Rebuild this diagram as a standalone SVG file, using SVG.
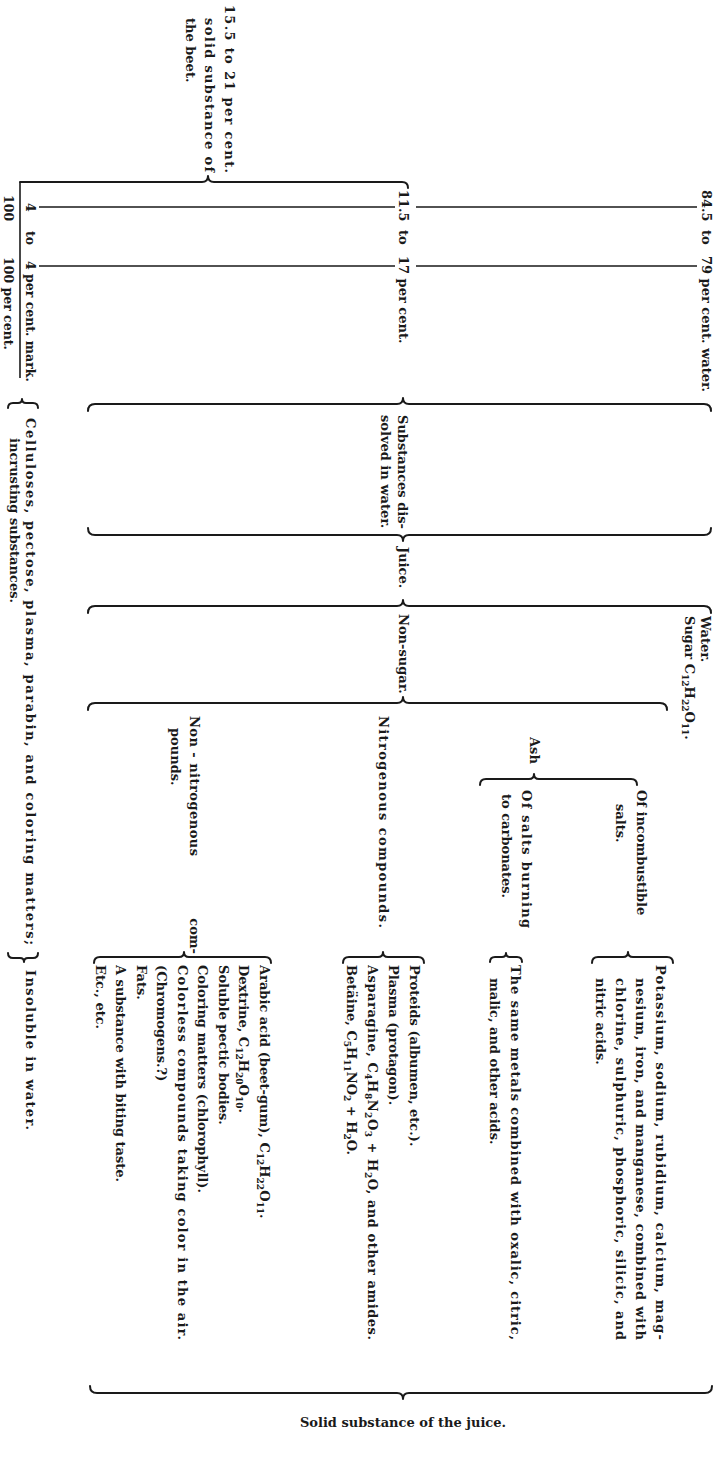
<svg xmlns="http://www.w3.org/2000/svg" width="718" height="1461" viewBox="0 0 718 1461">
<style>
.t{font-family:"DejaVu Serif","Liberation Serif",serif;font-weight:bold;font-size:13px;fill:#1a1a1a}
.f{font-size:12.5px}
.s{font-size:9px}
.br{fill:none;stroke:#1a1a1a;stroke-width:2;stroke-linecap:round;stroke-linejoin:round}
.ln{fill:none;stroke:#1a1a1a;stroke-width:1.6}
</style>
<rect width="718" height="1461" fill="#fff"/>
<g id="connectors">
<path class="br" d="M20,182 L202,182 Q208,182 208,176 Q208,182 214,182 L402,182 Q408,182 408,188"/>
<path class="ln" d="M20,182 L20,378"/>
<path class="ln" d="M39,207 L395,207 M416,207 L697,207 M39,266 L395,266 M416,266 L697,266"/>
<path class="br" d="M88,411 Q88,404 95,404 L397,404 Q403,404 403,398 Q403,404 409,404 L704,404 Q711,404 711,411"/>
<path class="br" d="M88,528 Q88,535 95,535 L397,535 Q403,535 403,541 Q403,535 409,535 L704,535 Q711,535 711,528"/>
<path class="br" d="M88,613 Q88,606 95,606 L397,606 Q403,606 403,600 Q403,606 409,606 L704,606 Q711,606 711,613"/>
<path class="br" d="M88,710 Q88,703 95,703 L397,703 Q403,703 403,697 Q403,703 409,703 L660,703 Q667,703 667,710"/>
<path class="br" d="M480,785 Q480,779 486,779 L529,779 Q534,779 534,774 Q534,779 539,779 L631,779 Q637,779 637,785"/>
<path class="br" d="M592,963 Q592,957 598,957 L623,957 Q628,957 628,952 Q628,957 633,957 L667,957 Q673,957 673,963"/>
<path class="br" d="M490,962 Q490,957 495,957 L502,957 Q506,957 506,953 Q506,957 510,957 L517,957 Q522,957 522,962"/>
<path class="br" d="M343,963 Q343,957 349,957 L378,957 Q383,957 383,952 Q383,957 388,957 L418,957 Q424,957 424,963"/>
<path class="br" d="M94,963 Q94,957 100,957 L179,957 Q184,957 184,952 Q184,957 189,957 L265,957 Q271,957 271,963"/>
<path class="br" d="M8,408 Q8,403 13,403 L18,403 Q22,403 22,399 Q22,403 26,403 L33,403 Q38,403 38,408"/>
<path class="br" d="M8,953 Q8,958 13,958 L20,958 Q24,958 24,962 Q24,958 28,958 L33,958 Q38,958 38,953"/>
<path class="br" d="M90,1386 Q90,1393 97,1393 L397,1393 Q403,1393 403,1399 Q403,1393 409,1393 L705,1393 Q712,1393 712,1386"/>
</g>
<g id="n-solid-beet">
<text class="t" transform="translate(224.5,5) rotate(90)" textLength="168" lengthAdjust="spacing">15.5 to 21 per cent.</text>
<text class="t" transform="translate(205,18) rotate(90)" textLength="154" lengthAdjust="spacing">solid substance of</text>
<text class="t" transform="translate(186,18) rotate(90)">the beet.</text>
</g>
<g id="n-mark">
<text class="t f" transform="translate(4,195) rotate(90)">100</text>
<text class="t f" transform="translate(4,257) rotate(90)">100 per cent.</text>
<text class="t f" transform="translate(26,203) rotate(90)">4</text>
<text class="t f" transform="translate(26,231) rotate(90)">to</text>
<text class="t f" transform="translate(26,261) rotate(90)">4 per cent. mark.</text>
</g>
<g id="n-dry">
<text class="t" transform="translate(398.5,190) rotate(90)">11.5</text>
<text class="t" transform="translate(398.5,230) rotate(90)">to</text>
<text class="t" transform="translate(398.5,256) rotate(90)">17 per cent.</text>
</g>
<g id="n-water">
<text class="t" transform="translate(702,190) rotate(90)">84.5</text>
<text class="t" transform="translate(702,230) rotate(90)">to</text>
<text class="t" transform="translate(702,256) rotate(90)">79 per cent. water.</text>
</g>
<g id="n-dissolved">
<text class="t" transform="translate(397.5,415) rotate(90)">Substances dis-</text>
<text class="t" transform="translate(380.5,415) rotate(90)">solved in water.</text>
</g>
<g id="n-juice">
<text class="t" transform="translate(398.5,547) rotate(90)">Juice.</text>
</g>
<g id="n-nonsugar">
<text class="t" transform="translate(398.5,614) rotate(90)">Non-sugar.</text>
</g>
<g id="n-water-sugar">
<text class="t" transform="translate(701,616) rotate(90)">Water.</text>
<text class="t" transform="translate(685,616) rotate(90)">Sugar C<tspan class="s" dy="3">12</tspan><tspan dy="-3">H</tspan><tspan class="s" dy="3">22</tspan><tspan dy="-3">O</tspan><tspan class="s" dy="3">11</tspan><tspan dy="-3">.</tspan></text>
</g>
<g id="n-ash">
<text class="t" transform="translate(529.5,737) rotate(90)">Ash</text>
</g>
<g id="n-incombustible">
<text class="t" transform="translate(636.5,790) rotate(90)">Of incombustible</text>
<text class="t" transform="translate(615.5,804) rotate(90)">salts.</text>
</g>
<g id="n-carbonates">
<text class="t" transform="translate(521.5,790) rotate(90)" textLength="138" lengthAdjust="spacing">Of salts burning</text>
<text class="t" transform="translate(501.5,794) rotate(90)">to carbonates.</text>
</g>
<g id="n-nitrogenous">
<text class="t" transform="translate(378.5,716) rotate(90)" textLength="212" lengthAdjust="spacing">Nitrogenous compounds.</text>
</g>
<g id="n-nonnitrogenous">
<text class="t" transform="translate(189.5,716) rotate(90)" textLength="140" lengthAdjust="spacing">Non - nitrogenous</text>
<text class="t" transform="translate(189.5,954) rotate(90)" text-anchor="end">com-</text>
<text class="t" transform="translate(170.5,728) rotate(90)">pounds.</text>
</g>
<g id="n-cellulose">
<text class="t" transform="translate(25.5,418) rotate(90)" textLength="527" lengthAdjust="spacing">Celluloses, pectose, plasma, parabin, and coloring matters;</text>
<text class="t" transform="translate(10,438) rotate(90)">incrusting substances.</text>
</g>
<g id="n-insoluble">
<text class="t" transform="translate(25.5,970) rotate(90)" textLength="160" lengthAdjust="spacing">Insoluble in water.</text>
</g>
<g id="n-metals">
<text class="t" transform="translate(655.5,965) rotate(90)" textLength="375" lengthAdjust="spacing">Potassium, sodium, rubidium, calcium, mag-</text>
<text class="t" transform="translate(635.5,978) rotate(90)" textLength="362" lengthAdjust="spacing">nesium, iron, and manganese, combined with</text>
<text class="t" transform="translate(615.5,978) rotate(90)" textLength="362" lengthAdjust="spacing">chlorine, sulphuric, phosphoric, silicic, and</text>
<text class="t" transform="translate(595.5,978) rotate(90)">nitric acids.</text>
</g>
<g id="n-same-metals">
<text class="t" transform="translate(510.5,965) rotate(90)" textLength="375" lengthAdjust="spacing">The same metals combined with oxalic, citric,</text>
<text class="t" transform="translate(489.5,978) rotate(90)">malic, and other acids.</text>
</g>
<g id="n-proteids">
<text class="t" transform="translate(409.5,965) rotate(90)">Proteids (albumen, etc.).</text>
<text class="t" transform="translate(388.5,965) rotate(90)">Plasma (protagon).</text>
<text class="t" transform="translate(367.5,965) rotate(90)" textLength="375" lengthAdjust="spacing">Asparagine, C<tspan class="s" dy="3">4</tspan><tspan dy="-3">H</tspan><tspan class="s" dy="3">8</tspan><tspan dy="-3">N</tspan><tspan class="s" dy="3">2</tspan><tspan dy="-3">O</tspan><tspan class="s" dy="3">3</tspan><tspan dy="-3"> + H</tspan><tspan class="s" dy="3">2</tspan><tspan dy="-3">O, and other amides.</tspan></text>
<text class="t" transform="translate(346.5,965) rotate(90)">Betäine, C<tspan class="s" dy="3">5</tspan><tspan dy="-3">H</tspan><tspan class="s" dy="3">11</tspan><tspan dy="-3">NO</tspan><tspan class="s" dy="3">2</tspan><tspan dy="-3"> + H</tspan><tspan class="s" dy="3">2</tspan><tspan dy="-3">O.</tspan></text>
</g>
<g id="n-arabic">
<text class="t" transform="translate(259.5,965) rotate(90)">Arabic acid (beet-gum), C<tspan class="s" dy="3">12</tspan><tspan dy="-3">H</tspan><tspan class="s" dy="3">22</tspan><tspan dy="-3">O</tspan><tspan class="s" dy="3">11</tspan><tspan dy="-3">.</tspan></text>
<text class="t" transform="translate(239,965) rotate(90)">Dextrine, C<tspan class="s" dy="3">12</tspan><tspan dy="-3">H</tspan><tspan class="s" dy="3">20</tspan><tspan dy="-3">O</tspan><tspan class="s" dy="3">10</tspan><tspan dy="-3">.</tspan></text>
<text class="t" transform="translate(218.5,965) rotate(90)">Soluble pectic bodies.</text>
<text class="t" transform="translate(198,965) rotate(90)">Coloring matters (chlorophyll).</text>
<text class="t" transform="translate(177.5,965) rotate(90)" textLength="375" lengthAdjust="spacing">Colorless compounds taking color in the air.</text>
<text class="t" transform="translate(157,965) rotate(90)">(Chromogens.?)</text>
<text class="t" transform="translate(136.5,965) rotate(90)">Fats.</text>
<text class="t" transform="translate(116,965) rotate(90)">A substance with biting taste.</text>
<text class="t" transform="translate(95.5,965) rotate(90)">Etc., etc.</text>
</g>
<g id="n-solid-juice">
<text class="t" x="403" y="1427" text-anchor="middle">Solid substance of the juice.</text>
</g>
</svg>
